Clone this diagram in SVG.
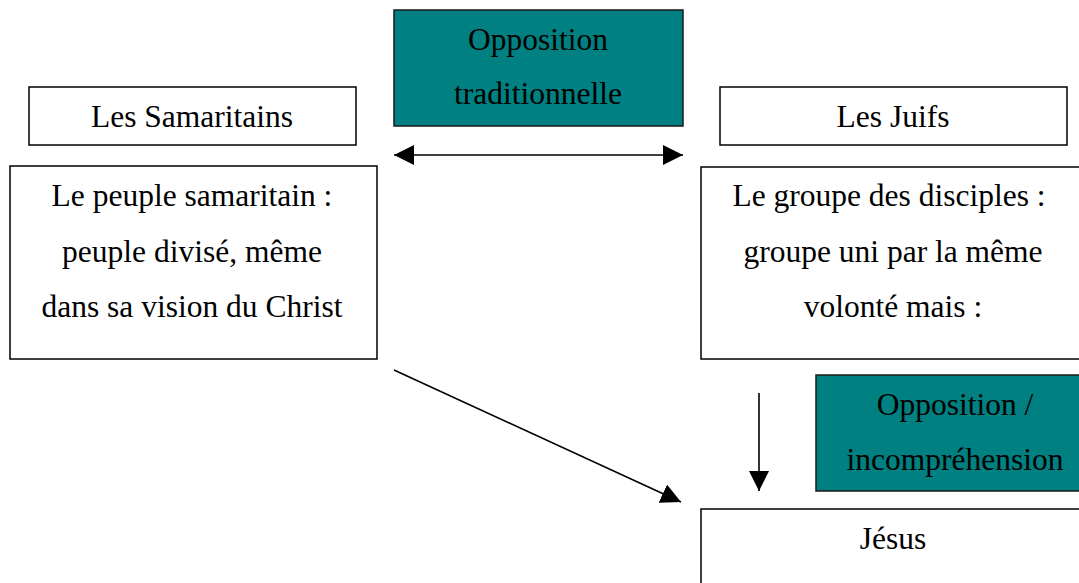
<svg xmlns="http://www.w3.org/2000/svg" width="1079" height="583" viewBox="0 0 1079 583">
  <style>
    .box { fill: #ffffff; stroke: #000000; stroke-width: 1.5; }
    .teal { fill: #008080; stroke: #1a1a1a; stroke-width: 1.5; }
    .lbl { font-family: "Liberation Serif", "Times New Roman", serif; font-size: 31.5px; fill: #000000; text-anchor: middle; }
    .conn { stroke: #000000; stroke-width: 1.6; fill: none; }
  </style>
  <defs>
    <marker id="ah" markerUnits="userSpaceOnUse" markerWidth="20" markerHeight="20" refX="20" refY="10" orient="auto-start-reverse" viewBox="0 0 20 20">
      <path d="M0,0 L20,10 L0,20 z" fill="#000000"/>
    </marker>
  </defs>
  <rect width="1079" height="583" fill="#ffffff"/>

  <g id="opposition-traditionnelle">
    <rect class="teal" x="394" y="10" width="289" height="116"/>
    <text class="lbl" x="538" y="50">Opposition</text>
    <text class="lbl" x="538" y="104">traditionnelle</text>
  </g>

  <g id="samaritains">
    <rect class="box" x="29" y="87" width="327" height="58"/>
    <text class="lbl" x="192" y="127">Les Samaritains</text>
  </g>

  <g id="peuple-samaritain">
    <rect class="box" x="10" y="166" width="367" height="193"/>
    <text class="lbl" x="192" y="206">Le peuple samaritain :</text>
    <text class="lbl" x="192" y="262">peuple divisé, même</text>
    <text class="lbl" x="192" y="317">dans sa vision du Christ</text>
  </g>

  <g id="juifs">
    <rect class="box" x="720" y="87" width="347" height="58"/>
    <text class="lbl" x="893" y="127">Les Juifs</text>
  </g>

  <g id="disciples">
    <rect class="box" x="701" y="167" width="400" height="192"/>
    <text class="lbl" x="889" y="206">Le groupe des disciples :</text>
    <text class="lbl" x="893" y="262">groupe uni par la même</text>
    <text class="lbl" x="893" y="317">volonté mais :</text>
  </g>

  <g id="opposition-incomprehension">
    <rect class="teal" x="816" y="375" width="300" height="116"/>
    <text class="lbl" x="955" y="415">Opposition /</text>
    <text class="lbl" x="955" y="470">incompréhension</text>
  </g>

  <g id="jesus">
    <rect class="box" x="701" y="509" width="400" height="100"/>
    <text class="lbl" x="893" y="549">Jésus</text>
  </g>

  <g id="connectors">
    <line class="conn" x1="394" y1="155" x2="683" y2="155" marker-start="url(#ah)" marker-end="url(#ah)"/>
    <line class="conn" x1="759" y1="393" x2="759" y2="491" marker-end="url(#ah)"/>
    <line class="conn" x1="394" y1="370" x2="681" y2="502" marker-end="url(#ah)"/>
  </g>
</svg>
